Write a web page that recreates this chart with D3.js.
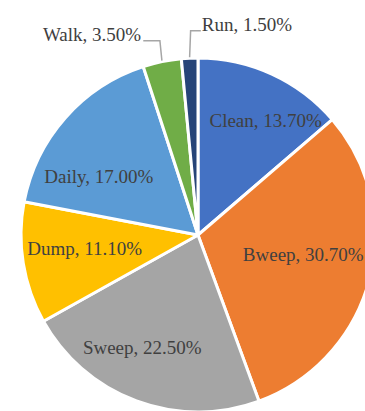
<!DOCTYPE html>
<html>
<head>
<meta charset="utf-8">
<script src="https://cdn.jsdelivr.net/npm/d3@7"></script>
<style>
  html, body { margin: 0; padding: 0; background: #fff; }
  svg { display: block; }
</style>
</head>
<body>
<svg id="chart" width="365" height="411"></svg>
<script>
// Share of activity per category, clockwise from 12 o'clock
const categories = ["Clean", "Bweep", "Sweep", "Dump", "Daily", "Walk", "Run"];
const shares = [13.7, 30.7, 22.5, 11.1, 17.0, 3.5, 1.5];
const colors = ["#4472C4", "#ED7D31", "#A5A5A5", "#FFC000", "#5B9BD5", "#70AD47", "#264478"];

// Label placement, expressed relative to each slice: angular shift (deg) and radius (fraction of R)
const labelShift = [6, -4, 6, 2.5, -11, -16.2, 15.8];
const labelRadius = [0.75, 0.605, 0.71, 0.645, 0.65, 1.28, 1.22];
const outsideLabel = [false, false, false, false, false, true, true];

const W = 365, H = 411;
const cx = 198, cy = 235, R = 177;

const svg = d3.select("#chart");
const g = svg.append("g").attr("transform", `translate(${cx},${cy})`);

const data = categories.map((c, i) => ({ name: c, value: shares[i], color: colors[i], i }));

const pie = d3.pie().sort(null).value(d => d.value);
const arcs = pie(data);
const arc = d3.arc().innerRadius(0).outerRadius(R);

g.selectAll("path.slice")
  .data(arcs)
  .join("path")
  .attr("class", "slice")
  .attr("d", arc)
  .attr("fill", d => d.data.color)
  .attr("stroke", "#fff")
  .attr("stroke-width", 3)
  .attr("stroke-linejoin", "round");

const fmt = d3.format(".2f");
function polar(angle, r) {
  return [Math.sin(angle) * r, -Math.cos(angle) * r];
}

arcs.forEach(a => {
  const i = a.data.i;
  const mid = (a.startAngle + a.endAngle) / 2;
  const ang = mid + labelShift[i] * Math.PI / 180;
  const [lx, ly] = polar(ang, labelRadius[i] * R);
  const txt = `${a.data.name}, ${fmt(a.data.value)}%`;

  const t = g.append("text")
    .attr("x", lx)
    .attr("y", ly)
    .attr("dy", "0.35em")
    .attr("text-anchor", "middle")
    .attr("font-family", "'Liberation Serif', 'Times New Roman', serif")
    .attr("font-size", 19)
    .attr("fill", "#404040")
    .text(txt);

  if (outsideLabel[i]) {
    // Leader line: from the slice edge up to the label's level, then across to it
    const [ex, ey] = polar(mid, R + 1);
    const bb = t.node().getBBox();
    const leftOfSlice = lx < ex;
    const lineY = ly + 6;
    const nearX = leftOfSlice ? bb.x + bb.width + 2 : bb.x - 1;
    const elbowX = ex + (leftOfSlice ? -2 : 1);
    g.append("path")
      .attr("d", `M${ex},${ey}L${elbowX},${lineY}L${nearX},${lineY}`)
      .attr("fill", "none")
      .attr("stroke", "#A6A6A6")
      .attr("stroke-width", 1.5);
  }
});
</script>
</body>
</html>
